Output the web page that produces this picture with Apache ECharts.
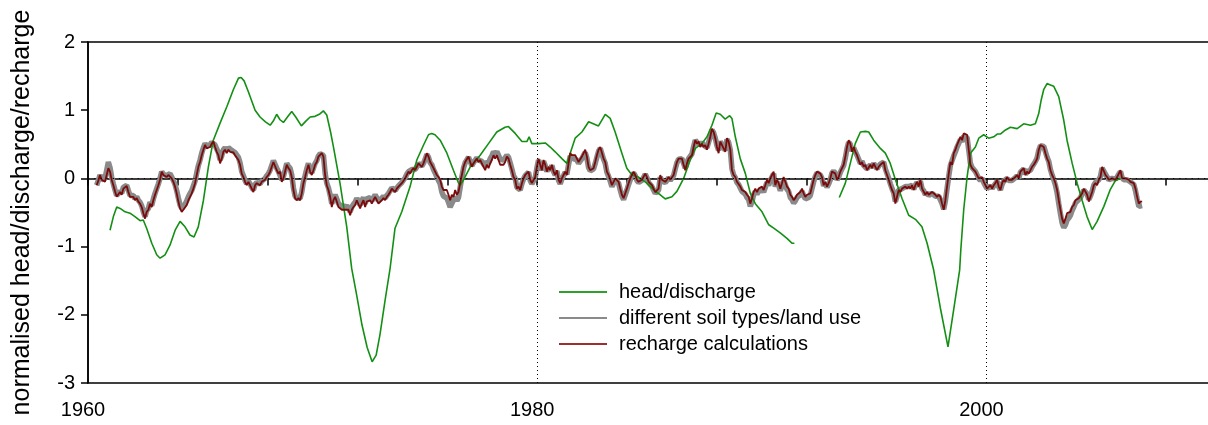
<!DOCTYPE html>
<html>
<head>
<meta charset="utf-8">
<script src="https://cdn.jsdelivr.net/npm/echarts@6/dist/echarts.min.js"></script>
<style>
html,body{margin:0;padding:0;background:#fff;}
#chart{width:1208px;height:425px;}
</style>
</head>
<body>
<div id="chart"></div>
<script>
// ---- data ----
const seriesNames = ['head/discharge', 'different soil types/land use', 'recharge calculations'];
const xTickLabels = [1960, 1980, 2000];
const yTickLabels = [2, 1, 0, -1, -2, -3];
const refLinesX = [1980, 2000];

// recharge series: regular sampling, start year + step (years)
const recStart = 1960.386;
const recStep = 0.07424;

const recValues = [
-0.10,-0.03,0.05,-0.02,-0.01,-0.05,0.05,0.15,0.10,-0.02,
-0.10,-0.19,-0.27,-0.29,-0.20,-0.24,-0.15,-0.17,-0.11,-0.20,
-0.27,-0.29,-0.27,-0.32,-0.29,-0.34,-0.37,-0.42,-0.51,-0.59,
-0.49,-0.46,-0.37,-0.42,-0.32,-0.24,-0.17,-0.10,-0.02,0.10,
0.05,0.07,0.02,0.05,0.06,0.00,-0.05,-0.12,-0.22,-0.34,
-0.44,-0.49,-0.46,-0.44,-0.39,-0.32,-0.27,-0.22,-0.15,-0.07,
0.05,0.17,0.24,0.34,0.42,0.49,0.44,0.42,0.46,0.51,
0.54,0.46,0.39,0.34,0.22,0.29,0.39,0.42,0.37,0.42,
0.39,0.37,0.38,0.34,0.34,0.27,0.20,0.07,0.02,-0.05,
-0.10,-0.05,-0.10,-0.15,-0.20,-0.10,-0.07,-0.05,-0.10,-0.05,
-0.05,-0.02,0.02,0.05,0.10,0.17,0.24,
0.22,0.12,0.07,0.10,-0.05,0.00,0.10,0.20,0.15,0.12,
0.02,-0.17,-0.29,-0.32,-0.29,-0.32,-0.22,-0.07,0.02,0.12,
0.20,0.10,0.05,0.12,0.20,0.24,0.32,0.34,0.37,0.32,
0.05,-0.10,-0.17,-0.27,-0.42,-0.32,-0.27,-0.34,-0.42,-0.44,
-0.46,-0.44,-0.46,-0.44,-0.46,-0.54,-0.46,-0.42,-0.39,-0.32,
-0.34,-0.44,-0.37,-0.32,-0.42,-0.34,-0.32,-0.32,-0.37,-0.32,
-0.27,-0.29,-0.37,-0.39,-0.32,-0.29,-0.32,-0.27,-0.24,-0.20,
-0.15,-0.17,-0.20,-0.15,-0.12,-0.10,-0.07,-0.05,0.00,0.05,
0.10,0.07,0.12,0.15,0.12,0.17,0.22,0.20,0.17,0.22,
0.29,0.37,0.32,0.24,0.22,0.15,0.10,0.05,0.02,-0.02,
-0.12,-0.17,-0.15,-0.17,-0.24,-0.32,-0.24,-0.27,
-0.17,-0.24,-0.20,-0.07,0.05,0.17,0.24,0.22,0.32,0.24,
0.17,0.22,0.20,0.29,0.24,0.27,0.22,0.17,0.12,0.20,
0.15,0.22,0.27,0.34,0.29,0.34,0.27,0.20,0.22,0.20,
0.24,0.32,0.29,0.20,0.12,0.02,-0.02,-0.15,-0.12,-0.17,
-0.07,0.00,0.05,0.07,0.10,-0.02,-0.07,-0.05,0.02,0.17,
0.29,0.20,0.12,0.27,0.20,0.10,0.17,0.12,0.20,0.10,
0.05,0.12,-0.02,-0.07,0.00,0.05,0.10,0.05,0.22,0.37,
0.34,0.32,0.34,0.29,0.24,0.24,0.32,0.37,0.42,0.32,
0.17,0.12,0.10,0.15,0.24,0.34,0.42,0.46,0.44,0.29,
0.24,0.10,0.05,-0.02,-0.10,-0.05,0.00,0.02,-0.05,-0.15,
-0.24,-0.29,-0.22,-0.15,-0.07,0.00,0.05,0.10,0.05,-0.02,-0.05,
-0.07,-0.02,0.00,0.07,0.02,-0.05,-0.07,-0.10,-0.15,-0.20,
-0.22,-0.15,0.05,-0.02,0.00,-0.05,-0.02,0.02,-0.02,0.00,
0.05,0.15,0.24,0.29,0.27,0.29,0.20,0.12,0.22,0.29,
0.27,0.34,0.46,0.56,0.51,0.54,0.46,0.51,0.46,0.49,
0.42,0.51,0.61,0.73,0.68,0.59,0.46,0.37,0.54,0.56,
0.44,0.39,0.59,0.54,0.42,0.12,0.05,0.02,-0.05,-0.07,
-0.12,-0.17,-0.15,-0.20,-0.24,-0.27,-0.37,-0.29,-0.20,-0.15,
-0.20,-0.15,-0.17,-0.12,-0.17,-0.10,-0.02,-0.07,0.00,0.05,
0.10,-0.10,-0.02,-0.07,-0.15,-0.07,0.02,-0.05,-0.12,-0.15,
-0.24,-0.27,-0.32,-0.29,-0.24,-0.24,-0.20,-0.15,-0.22,-0.27,
-0.24,-0.24,-0.22,-0.12,-0.02,0.05,0.10,0.10,0.07,0.02,-0.10,
-0.05,-0.12,-0.07,0.00,0.10,0.12,0.07,-0.02,0.02,0.10,
0.15,0.20,0.32,0.46,0.56,0.51,0.39,0.46,0.39,0.34,
0.27,0.20,0.24,0.17,0.20,0.12,0.10,0.20,0.15,0.22,
0.20,0.12,0.17,0.20,0.22,0.24,0.12,0.05,-0.02,-0.10,
-0.17,-0.22,-0.37,-0.27,-0.17,-0.20,-0.15,-0.17,-0.12,-0.15,
-0.12,-0.15,-0.10,-0.17,-0.10,-0.05,-0.12,-0.02,-0.15,-0.17,
-0.24,-0.20,-0.24,-0.22,-0.20,-0.22,-0.24,-0.27,-0.24,-0.27,
-0.37,-0.46,-0.32,-0.12,0.07,0.24,0.20,0.37,0.42,0.49,
0.51,0.61,0.56,0.66,0.68,0.64,0.42,0.20,0.15,0.15,
0.10,0.10,0.00,-0.02,0.02,-0.05,-0.10,-0.15,-0.17,-0.10,
-0.15,-0.10,-0.07,-0.02,-0.12,-0.17,-0.07,-0.02,-0.05,0.02,-0.02,
0.00,-0.02,-0.02,0.02,0.05,0.00,0.10,0.12,0.15,0.05,
0.10,0.07,0.12,0.17,0.20,0.24,0.29,0.42,0.49,0.51,
0.46,0.37,0.29,0.24,0.12,0.05,0.00,-0.07,-0.17,-0.32,
-0.46,-0.59,-0.66,-0.59,-0.51,-0.51,-0.49,-0.42,-0.39,-0.32,
-0.32,-0.29,-0.27,-0.22,-0.15,-0.15,-0.24,-0.34,-0.27,-0.20,
-0.10,-0.07,-0.10,-0.02,0.02,0.17,0.15,0.05,0.02,-0.02,
-0.02,0.00,0.00,-0.02,0.02,0.07,0.12,0.00,-0.02,0.00,
-0.02,-0.02,-0.05,-0.05,-0.07,-0.15,-0.27,-0.37,-0.34,-0.34
];

const soilValues = [
-0.10,-0.03,0.05,-0.02,-0.01,0.00,0.12,0.24,0.16,0.02,
-0.08,-0.17,-0.25,-0.27,-0.19,-0.22,-0.13,-0.15,-0.10,-0.18,
-0.25,-0.27,-0.25,-0.30,-0.27,-0.32,-0.35,-0.40,-0.49,-0.56,
-0.47,-0.44,-0.35,-0.40,-0.30,-0.22,-0.15,-0.08,0.00,0.10,
0.06,0.08,0.04,0.06,0.07,0.02,-0.03,-0.09,-0.18,-0.29,
-0.39,-0.44,-0.41,-0.38,-0.33,-0.27,-0.22,-0.18,-0.11,-0.04,
0.08,0.19,0.27,0.37,0.45,0.51,0.48,0.46,0.49,0.53,
0.55,0.49,0.43,0.38,0.27,0.33,0.42,0.45,0.41,0.45,
0.43,0.41,0.42,0.38,0.37,0.31,0.23,0.10,0.04,-0.03,
-0.08,-0.04,-0.08,-0.13,-0.17,-0.09,-0.06,-0.04,-0.08,-0.04,
-0.03,0.00,0.04,0.07,0.12,0.19,0.26,
0.24,0.15,0.10,0.12,-0.02,0.03,0.12,0.22,0.18,0.15,
0.05,-0.14,-0.26,-0.29,-0.27,-0.29,-0.20,-0.05,0.04,0.14,
0.22,0.13,0.08,0.15,0.22,0.26,0.33,0.36,0.38,0.34,
0.08,-0.07,-0.14,-0.24,-0.37,-0.29,-0.24,-0.30,-0.37,-0.39,
-0.41,-0.40,-0.41,-0.40,-0.42,-0.49,-0.42,-0.38,-0.35,-0.29,
-0.30,-0.39,-0.33,-0.28,-0.37,-0.30,-0.28,-0.28,-0.33,-0.29,
-0.24,-0.26,-0.33,-0.35,-0.29,-0.26,-0.29,-0.25,-0.22,-0.18,
-0.14,-0.15,-0.18,-0.14,-0.11,-0.09,-0.06,-0.04,0.01,0.06,
0.10,0.08,0.13,0.15,0.13,0.17,0.22,0.21,0.18,0.22,
0.28,0.35,0.31,0.23,0.20,0.13,0.08,0.02,-0.03,-0.08,
-0.20,-0.26,-0.26,-0.29,-0.35,-0.42,-0.37,-0.38,
-0.27,-0.33,-0.28,-0.13,0.02,0.15,0.23,0.22,0.31,0.25,
0.19,0.23,0.22,0.30,0.27,0.29,0.25,0.21,0.18,0.25,
0.22,0.29,0.33,0.39,0.36,0.39,0.34,0.28,0.29,0.27,
0.29,0.34,0.31,0.23,0.14,0.04,0.00,-0.13,-0.12,-0.17,
-0.08,-0.01,0.04,0.06,0.09,-0.03,-0.08,-0.06,0.01,0.15,
0.27,0.19,0.12,0.25,0.19,0.10,0.16,0.12,0.19,0.10,
0.05,0.11,-0.03,-0.08,-0.01,0.04,0.09,0.06,0.20,0.33,
0.31,0.29,0.31,0.27,0.22,0.22,0.29,0.34,0.38,0.30,
0.16,0.11,0.09,0.14,0.22,0.31,0.40,0.44,0.42,0.28,
0.22,0.09,0.03,-0.04,-0.12,-0.07,-0.02,0.00,-0.07,-0.17,
-0.26,-0.31,-0.24,-0.17,-0.09,-0.02,0.03,0.08,0.04,-0.03,-0.06,
-0.08,-0.03,-0.01,0.06,0.01,-0.06,-0.08,-0.12,-0.17,-0.22,
-0.24,-0.17,0.02,-0.04,-0.02,-0.06,-0.03,0.01,-0.03,-0.01,
0.04,0.14,0.23,0.28,0.27,0.29,0.22,0.15,0.23,0.29,
0.29,0.36,0.47,0.56,0.53,0.55,0.49,0.53,0.49,0.51,
0.45,0.53,0.61,0.71,0.67,0.59,0.48,0.41,0.54,0.55,
0.45,0.41,0.57,0.53,0.42,0.14,0.05,0.01,-0.06,-0.09,
-0.14,-0.19,-0.18,-0.23,-0.28,-0.31,-0.41,-0.34,-0.24,-0.19,
-0.23,-0.19,-0.20,-0.16,-0.20,-0.13,-0.06,-0.10,-0.03,0.02,
0.07,-0.12,-0.05,-0.10,-0.18,-0.11,-0.02,-0.09,-0.16,-0.19,
-0.28,-0.31,-0.36,-0.33,-0.28,-0.28,-0.24,-0.19,-0.25,-0.30,
-0.28,-0.28,-0.25,-0.15,-0.05,0.03,0.08,0.08,0.05,0.00,-0.11,
-0.07,-0.13,-0.08,-0.02,0.08,0.11,0.07,-0.02,0.02,0.09,
0.14,0.19,0.30,0.44,0.53,0.50,0.40,0.45,0.39,0.34,
0.28,0.22,0.25,0.19,0.21,0.14,0.12,0.20,0.16,0.22,
0.21,0.14,0.18,0.21,0.23,0.24,0.14,0.07,0.00,-0.08,
-0.15,-0.21,-0.34,-0.26,-0.17,-0.19,-0.15,-0.16,-0.12,-0.14,
-0.12,-0.14,-0.10,-0.16,-0.10,-0.06,-0.12,-0.04,-0.15,-0.18,
-0.24,-0.21,-0.25,-0.23,-0.22,-0.24,-0.26,-0.28,-0.26,-0.28,
-0.37,-0.45,-0.33,-0.15,0.03,0.19,0.18,0.33,0.39,0.46,
0.48,0.57,0.54,0.62,0.64,0.60,0.42,0.22,0.16,0.15,
0.10,0.09,0.00,-0.03,0.00,-0.06,-0.11,-0.15,-0.17,-0.11,
-0.15,-0.11,-0.08,-0.04,-0.12,-0.17,-0.09,-0.04,-0.06,0.00,-0.03,
-0.01,-0.03,-0.03,0.01,0.04,0.00,0.09,0.11,0.14,0.06,
0.10,0.08,0.12,0.17,0.21,0.25,0.30,0.41,0.48,0.50,
0.47,0.39,0.31,0.25,0.13,0.05,-0.02,-0.10,-0.21,-0.37,
-0.52,-0.65,-0.72,-0.68,-0.61,-0.58,-0.54,-0.47,-0.42,-0.36,
-0.35,-0.31,-0.28,-0.23,-0.17,-0.16,-0.23,-0.31,-0.26,-0.19,
-0.10,-0.06,-0.08,-0.02,0.03,0.15,0.14,0.06,0.02,-0.02,
-0.02,0.00,0.01,-0.01,0.02,0.06,0.10,0.01,-0.02,0.00,
-0.02,-0.03,-0.05,-0.06,-0.09,-0.18,-0.30,-0.41,-0.40,-0.40
];

const headYears = [
1960.98,1961.13,1961.28,1961.43,1961.65,1961.87,1962.09,1962.32,1962.46,1962.61,
1962.84,1963.06,1963.21,1963.43,1963.65,1963.88,1964.10,1964.32,1964.54,1964.72,
1964.91,1965.14,1965.36,1965.58,1965.88,1966.18,1966.47,1966.70,1966.82,1966.95,
1967.14,1967.44,1967.66,1967.90,1968.11,1968.25,1968.40,1968.55,1968.70,1968.88,
1969.07,1969.25,1969.50,1969.70,1969.89,1970.11,1970.30,1970.48,1970.63,1970.80,
1970.93,1971.22,1971.52,1971.74,1971.94,1972.20,1972.43,1972.65,1972.83,1973.00,
1973.23,1973.45,1973.67,1973.97,1974.34,1974.64,1974.94,1975.16,1975.30,1975.45,
1975.68,1975.98,1976.27,1976.50,1976.57,1976.72,1977.02,1977.46,1977.83,1978.20,
1978.57,1978.72,1979.02,1979.32,1979.54,1979.64,1979.76,1980.06,1980.36,1980.58,
1980.80,1981.10,1981.32,1981.47,1981.69,1981.99,1982.29,1982.73,1983.03,1983.25,
1983.47,1983.77,1983.99,1984.22,1984.51,1984.88,1985.26,1985.48,1985.70,1986.00,
1986.22,1986.52,1986.81,1987.04,1987.33,1987.56,1987.78,1987.97,1988.15,1988.37,
1988.57,1988.67,1988.82,1989.04,1989.27,1989.49,1989.71,1990.01,1990.31,1990.53,
1990.82,1991.12,1991.34,1991.45,
1992.40,
1993.45,1993.72,1993.94,1994.16,1994.39,1994.61,1994.76,1994.98,1995.28,1995.50,
1995.72,1995.95,1996.24,1996.54,1996.84,1997.13,1997.36,1997.65,1997.95,1998.29,
1998.54,1998.81,1998.86,1998.99,1999.14,1999.29,1999.51,1999.66,1999.88,2000.10,
2000.33,2000.48,2000.62,2000.85,2001.07,2001.37,2001.66,2001.96,2002.18,2002.33,
2002.44,2002.55,2002.70,2002.85,2003.00,2003.22,2003.44,2003.59,2003.82,2004.04,
2004.26,2004.48,2004.71,2004.93,2005.23,2005.52,2005.75,2005.97
];
const headValues = [
-0.76,-0.56,-0.42,-0.44,-0.49,-0.51,-0.56,-0.62,-0.61,-0.73,
-0.95,-1.12,-1.17,-1.12,-0.98,-0.76,-0.63,-0.71,-0.83,-0.86,
-0.71,-0.32,0.17,0.56,0.81,1.05,1.30,1.47,1.48,1.43,
1.27,1.00,0.90,0.83,0.78,0.84,0.94,0.86,0.82,0.90,
0.98,0.90,0.77,0.84,0.90,0.91,0.94,0.99,0.93,0.68,
0.46,-0.07,-0.71,-1.32,-1.67,-2.15,-2.48,-2.69,-2.59,-2.29,
-1.78,-1.32,-0.73,-0.49,-0.12,0.27,0.49,0.64,0.66,0.64,
0.56,0.37,0.12,-0.07,-0.10,-0.02,0.17,0.34,0.51,0.68,
0.75,0.76,0.66,0.54,0.54,0.61,0.51,0.51,0.52,0.46,
0.39,0.29,0.22,0.37,0.59,0.68,0.83,0.77,0.94,0.88,
0.68,0.37,0.15,0.05,0.02,-0.07,-0.19,-0.24,-0.30,-0.27,
-0.19,0.00,0.27,0.44,0.51,0.61,0.78,0.96,0.94,0.87,
0.92,0.88,0.61,0.29,0.07,-0.22,-0.37,-0.49,-0.68,-0.73,
-0.80,-0.88,-0.95,-0.95,
null,
-0.28,-0.07,0.22,0.51,0.68,0.69,0.68,0.56,0.44,0.37,
0.22,-0.02,-0.29,-0.54,-0.60,-0.71,-0.95,-1.34,-1.90,-2.47,
-1.93,-1.34,-1.05,-0.46,0.02,0.37,0.46,0.59,0.64,0.59,
0.61,0.65,0.65,0.71,0.75,0.73,0.80,0.78,0.80,0.95,
1.15,1.30,1.39,1.37,1.35,1.20,0.86,0.56,0.22,-0.07,
-0.32,-0.56,-0.75,-0.63,-0.41,-0.16,-0.03,0.00
];

// ---- chart ----
const FONT = '"Liberation Sans", Arial, sans-serif';
const recData = recValues.map((v, i) => [recStart + i * recStep, v]);
const soilData = soilValues.map((v, i) => [recStart + i * recStep, v]);
const headData = headYears.map((y, i) => [y, headValues[i]]);

const chart = echarts.init(document.getElementById('chart'), null, {renderer: 'canvas'});
chart.setOption({
  animation: false,
  backgroundColor: '#fff',
  textStyle: {fontFamily: FONT},
  grid: {left: 88, right: -3, top: 42, bottom: 42, containLabel: false, outerBoundsMode: 'none',
    show: true, borderColor: '#000', borderWidth: 1.5, backgroundColor: 'transparent'},
  legend: {
    orient: 'vertical', left: 559, top: 282, padding: 0, itemGap: 6,
    itemWidth: 48, itemHeight: 2, icon: 'rect',
    textStyle: {fontFamily: FONT, fontSize: 20, color: '#000', padding: [0, 0, 0, 7]},
    data: seriesNames
  },
  xAxis: {
    type: 'value', min: 1960, max: 2010, interval: 4,
    axisLine: {show: true, lineStyle: {color: '#000', width: 1.5}},
    axisTick: {show: true, inside: false, length: 7, lineStyle: {color: '#000', width: 1.5}},
    axisLabel: {
      margin: 17, fontSize: 20, color: '#000', fontFamily: FONT, padding: [0, 10, 0, 0],
      formatter: v => xTickLabels.indexOf(v) >= 0 ? String(v) : ''
    },
    splitLine: {show: false}
  },
  yAxis: {
    type: 'value', min: -3, max: 2, interval: 1,
    name: 'normalised head/discharge/recharge', nameLocation: 'middle', nameGap: 53,
    nameTextStyle: {fontSize: 25, color: '#000', fontFamily: FONT},
    axisLine: {show: true, lineStyle: {color: '#000', width: 1.5}},
    axisTick: {show: true, inside: false, length: 7, lineStyle: {color: '#000', width: 1.5}},
    axisLabel: {margin: 13, fontSize: 20, color: '#000', fontFamily: FONT,
      formatter: v => yTickLabels.indexOf(v) >= 0 ? String(v) : ''},
    splitLine: {show: false}
  },
  series: [
    {
      name: seriesNames[1], type: 'line', data: soilData, showSymbol: false, symbol: 'none',
      lineStyle: {color: '#8a8a8a', width: 5.5}, itemStyle: {color: '#8a8a8a'}, z: 2,
      markLine: {
        silent: true, symbol: 'none', label: {show: false},
        lineStyle: {color: '#000', width: 1, type: [1, 3]},
        data: refLinesX.map(x => ({xAxis: x, lineStyle: {color: '#000', width: 1, type: [1, 3]}}))
          .concat([{yAxis: 0, lineStyle: {color: '#000', width: 1.2, type: [1.2, 5]}}])
      }
    },
    {
      name: seriesNames[0], type: 'line', data: headData, showSymbol: false, symbol: 'none',
      connectNulls: false,
      lineStyle: {color: '#138f13', width: 1.6}, itemStyle: {color: '#2ea02e'}, z: 3
    },
    {
      name: seriesNames[2], type: 'line', data: recData, showSymbol: false, symbol: 'none',
      lineStyle: {color: '#7d0a0a', width: 1.8}, itemStyle: {color: '#9a3030'}, z: 4
    }
  ]
});
</script>
</body>
</html>
